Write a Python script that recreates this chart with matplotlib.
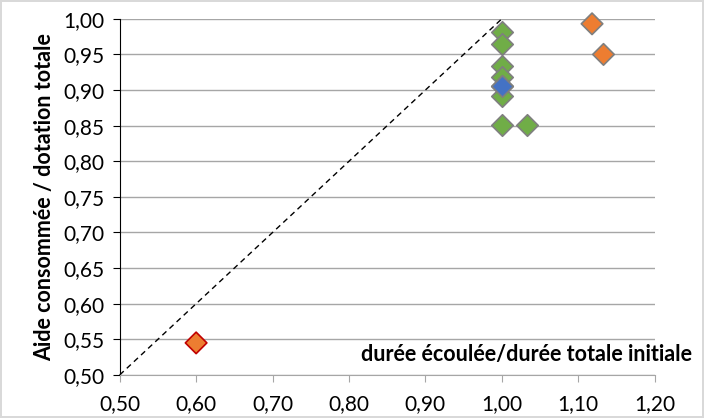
import matplotlib.pyplot as plt
import matplotlib.ticker as mticker

plt.rcParams['font.family'] = ['Lato', 'DejaVu Sans']

# données
orange_x = [0.60, 1.118, 1.133]
orange_y = [0.545, 0.993, 0.950]
orange_edge = ['#c00000', '#7f7f7f', '#7f7f7f']
green_x = [1.00, 1.00, 1.00, 1.00, 1.00, 1.00, 1.00, 1.033]
green_y = [0.982, 0.965, 0.934, 0.918, 0.906, 0.892, 0.851, 0.851]
blue_x = [1.00]
blue_y = [0.906]
diag = [0.50, 1.00]


def virgule(v, pos):
    return f'{v:.2f}'.replace('.', ',')


fig = plt.figure(figsize=(7.04, 4.18), dpi=100, edgecolor='#d9d9d9', linewidth=1.5)
ax = fig.add_axes([0.170, 0.103, 0.760, 0.852])

ax.plot(diag, diag, linestyle=(0, (4, 3)), color='black', linewidth=1, zorder=2, clip_on=False)
ms = 120
ax.scatter(green_x, green_y, marker='D', s=ms, color='#70ad47', edgecolors='#7f7f7f',
           linewidths=1.2, zorder=3, clip_on=False)
ax.scatter(blue_x, blue_y, marker='D', s=ms, color='#4472c4', edgecolors='#7f7f7f',
           linewidths=1.2, zorder=4, clip_on=False)
ax.scatter(orange_x, orange_y, marker='D', s=ms, color='#ed7d31', edgecolors=orange_edge,
           linewidths=1.2, zorder=4, clip_on=False)

ax.set_xlim(0.50, 1.20)
ax.set_ylim(0.50, 1.00)
ax.xaxis.set_major_locator(mticker.MultipleLocator(0.10))
ax.yaxis.set_major_locator(mticker.MultipleLocator(0.05))
ax.xaxis.set_major_formatter(mticker.FuncFormatter(virgule))
ax.yaxis.set_major_formatter(mticker.FuncFormatter(virgule))
ax.grid(axis='y', color='#a6a6a6', linewidth=1)
ax.set_axisbelow(True)

for s in ['top', 'right']:
    ax.spines[s].set_visible(False)
ax.spines['bottom'].set_color('#a6a6a6')
ax.spines['left'].set_color('black')
ax.tick_params(axis='x', colors='#a6a6a6', labelcolor='black', labelsize=15, length=5, pad=9)
ax.tick_params(axis='y', colors='black', labelsize=15, length=5, pad=6)

ax.set_ylabel('Aide consommée / dotation totale', fontsize=15.5, fontweight='bold', labelpad=6)
fig.text(0.983, 0.151, 'durée écoulée/durée totale initiale', fontsize=15.5,
         fontweight='bold', ha='right', va='center')

fig.savefig('out.png', dpi=100, edgecolor=fig.get_edgecolor())
